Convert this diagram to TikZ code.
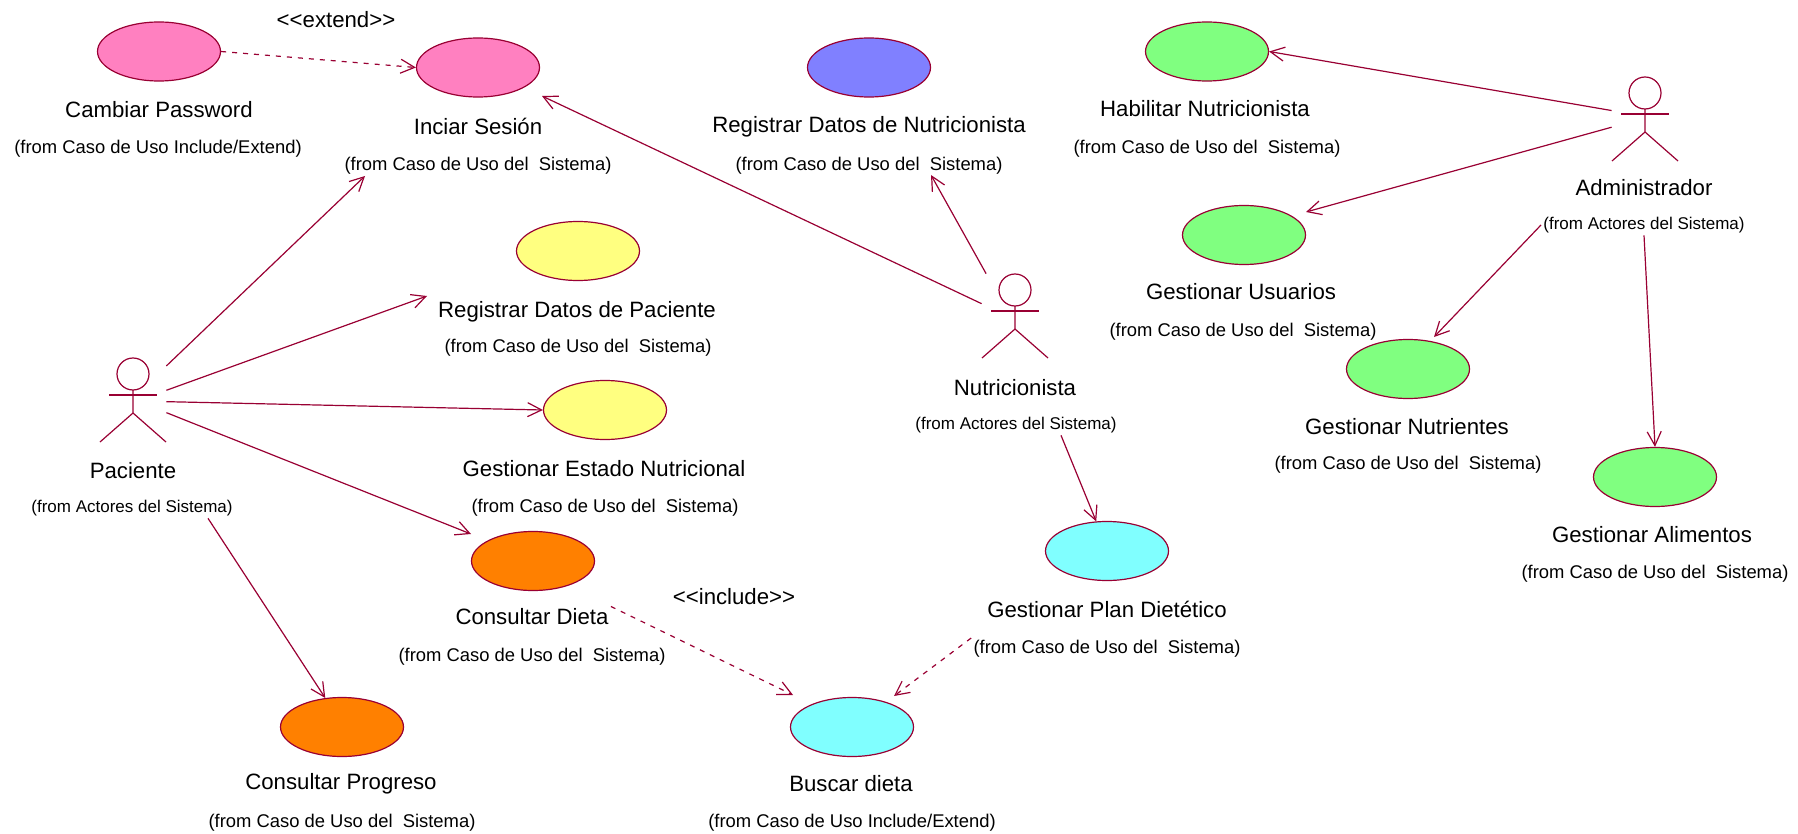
\documentclass[tikz,border=0pt]{standalone}
\usepackage{fontspec}
\setmainfont{Liberation Sans}
\usetikzlibrary{shapes.geometric, arrows.meta}
\definecolor{umlred}{HTML}{990033}
\definecolor{umlpink}{HTML}{FF80C0}
\definecolor{umlyellow}{HTML}{FFFF80}
\definecolor{umlblue}{HTML}{8080FF}
\definecolor{umlgreen}{HTML}{80FF80}
\definecolor{umlorange}{HTML}{FF8000}
\definecolor{umlcyan}{HTML}{80FFFF}
\newcommand{\actorfig}[3]{%
  \begin{scope}[shift={(#2,#3)}]
    \node[actorbox] (#1) at (0,26.5) {};
    \draw[figline] (0,0) circle[radius=8pt];
    \draw[figline] (0,16) -- (0,39) -- (-33,68);
    \draw[figline] (0,39) -- (33,68);
    \draw[figline] (-24,21) -- (24,21);
  \end{scope}
}
\begin{document}
\begin{tikzpicture}[
        x=0.5pt, y=-0.5pt,
        usecase/.style={
          ellipse,
          minimum width=61.5pt,
          minimum height=29.5pt,
          inner sep=0pt,
          draw=umlred,
          line width=0.6pt
        },
        actorbox/.style={
          rectangle,
          minimum width=33pt,
          minimum height=42.5pt,
          inner sep=0pt
        },
        figline/.style={
          draw=umlred,
          line width=0.6pt
        },
        title/.style={
          font=\fontsize{11.1}{13}\selectfont,
          inner sep=1pt
        },
        origin/.style={
          font=\fontsize{9.2}{11}\selectfont,
          inner sep=1pt
        },
        actororigin/.style={
          origin,
          font=\fontsize{8.5}{10}\selectfont
        },
        assoc/.style={
          draw=umlred,
          line width=0.6pt,
          -{Straight Barb[length=7pt,width=7pt]}
        },
        depend/.style={
          assoc,
          dash pattern=on 2.5pt off 3pt
        }
      ]
      \useasboundingbox (0,0) rectangle (1798,834);

      % Use cases
      \node[usecase, fill=umlpink] (cambiar) at (159,51.5) {};
      \node[usecase, fill=umlpink] (iniciar) at (478,67.5) {};
      \node[usecase, fill=umlblue] (regnutri) at (869,67.5) {};
      \node[usecase, fill=umlgreen] (habilitar) at (1207,51.5) {};
      \node[usecase, fill=umlgreen] (usuarios) at (1244,235) {};
      \node[usecase, fill=umlgreen] (nutrientes) at (1408,369) {};
      \node[usecase, fill=umlgreen] (alimentos) at (1655,477) {};
      \node[usecase, fill=umlyellow] (regpaciente) at (578,251) {};
      \node[usecase, fill=umlyellow] (estado) at (605,410) {};
      \node[usecase, fill=umlorange] (dieta) at (533,561) {};
      \node[usecase, fill=umlorange] (progreso) at (342,727) {};
      \node[usecase, fill=umlcyan] (plan) at (1107,551) {};
      \node[usecase, fill=umlcyan] (buscar) at (852,727) {};

      % Actors
      \actorfig{paciente}{133}{374}
      \actorfig{nutricionista}{1015}{290}
      \actorfig{administrador}{1645}{93}

      % Names
      \node[title] (cambiarname) at (159,110) {Cambiar Password};
      \node[title] (iniciarname) at (478,126) {Inciar Sesión};
      \node[title] (regnutriname) at (869,127) {Registrar Datos de Nutricionista};
      \node[title] (habilitarname) at (1205,109) {Habilitar Nutricionista};
      \node[title] (usuariosname) at (1241,292) {Gestionar Usuarios};
      \node[title] (nutrientesname) at (1407,427) {Gestionar Nutrientes};
      \node[title] (alimentosname) at (1652,535) {Gestionar Alimentos};
      \node[title] (regpacientename) at (577,312) {Registrar Datos de Paciente};
      \node[title] (estadoname) at (604,469) {Gestionar Estado Nutricional};
      \node[title] (dietaname) at (532,617) {Consultar Dieta};
      \node[title] (progresoname) at (341,784) {Consultar Progreso};
      \node[title] (planname) at (1107,609) {Gestionar Plan Dietético};
      \node[title] (buscarname) at (851,784) {Buscar dieta};
      \node[title] (pacientename) at (133,471) {Paciente};
      \node[title] (nutricionistaname) at (1015,388) {Nutricionista};
      \node[title] (administradorname) at (1644,188) {Administrador};

      % Packages
      \node[origin] (cambiarsub) at (158,149) {(from Caso de Uso Include/Extend)};
      \node[origin] (iniciarsub) at (478,166) {(from Caso de Uso del\ \ Sistema)};
      \node[origin] (regnutrisub) at (869,166) {(from Caso de Uso del\ \ Sistema)};
      \node[origin] (habilitarsub) at (1207,149) {(from Caso de Uso del\ \ Sistema)};
      \node[origin] (usuariossub) at (1243,332) {(from Caso de Uso del\ \ Sistema)};
      \node[origin] (nutrientessub) at (1408,465) {(from Caso de Uso del\ \ Sistema)};
      \node[origin] (alimentossub) at (1655,574) {(from Caso de Uso del\ \ Sistema)};
      \node[origin] (regpacientesub) at (578,348) {(from Caso de Uso del\ \ Sistema)};
      \node[origin] (estadosub) at (605,508) {(from Caso de Uso del\ \ Sistema)};
      \node[origin] (dietasub) at (532,657) {(from Caso de Uso del\ \ Sistema)};
      \node[origin] (progresosub) at (342,823) {(from Caso de Uso del\ \ Sistema)};
      \node[origin] (plansub) at (1107,649) {(from Caso de Uso del\ \ Sistema)};
      \node[origin] (buscarsub) at (852,823) {(from Caso de Uso Include/Extend)};
      \node[actororigin] (pacientesub) at (132,508) {(from Actores del Sistema)};
      \node[actororigin] (nutricionistasub) at (1016,425) {(from Actores del Sistema)};
      \node[actororigin] (administradorsub) at (1644,225) {(from Actores del Sistema)};

      % Stereotypes
      \node[title] (extendlabel) at (336,19.5) {<{}<extend>{}>};
      \node[title] (includelabel) at (734,597) {<{}<include>{}>};

      % Free arrow ends
      \coordinate (tipsesion) at (365,176);
      \coordinate (tipregpaciente) at (427,296);
      \coordinate (tipdieta) at (471,534);
      \coordinate (tipbuscarl) at (793,695);
      \coordinate (tipbuscarr) at (894,696);
      \coordinate (tipusuarios) at (1306,212);
      \coordinate (tipnutrientes) at (1434,337);
      \coordinate (tipregnutri) at (931,175);
      \coordinate (tipiniciar) at (542,96);

      % Paciente
      \draw[assoc] (paciente.46) -- (tipsesion);
      \draw[assoc] (paciente.17) -- (tipregpaciente);
      \draw[assoc] (paciente.-2) -- (estado.west);
      \draw[assoc] (paciente.-20) -- (tipdieta);
      \draw[assoc] ([xshift=38pt]pacientesub.south) -- (progreso.120);

      % Nutricionista
      \draw[assoc] (nutricionista.159) -- (tipiniciar);
      \draw[assoc] (nutricionista.124) -- (tipregnutri);
      \draw[assoc] ([xshift=22.5pt]nutricionistasub.south) -- (plan.110);

      % Administrador
      \draw[assoc] (administrador.165.6) -- (habilitar.east);
      \draw[assoc] (administrador.193) -- (tipusuarios);
      \draw[assoc] (administradorsub.west) -- (tipnutrientes);
      \draw[assoc] (administradorsub.south) -- (alimentos.north);

      % Dependencies
      \draw[depend] (cambiar.east) -- (iniciar.west);
      \draw[depend] (dietaname.north east) -- (tipbuscarl);
      \draw[depend] (plansub.north west) -- (tipbuscarr);

    \end{tikzpicture}
\end{document}
